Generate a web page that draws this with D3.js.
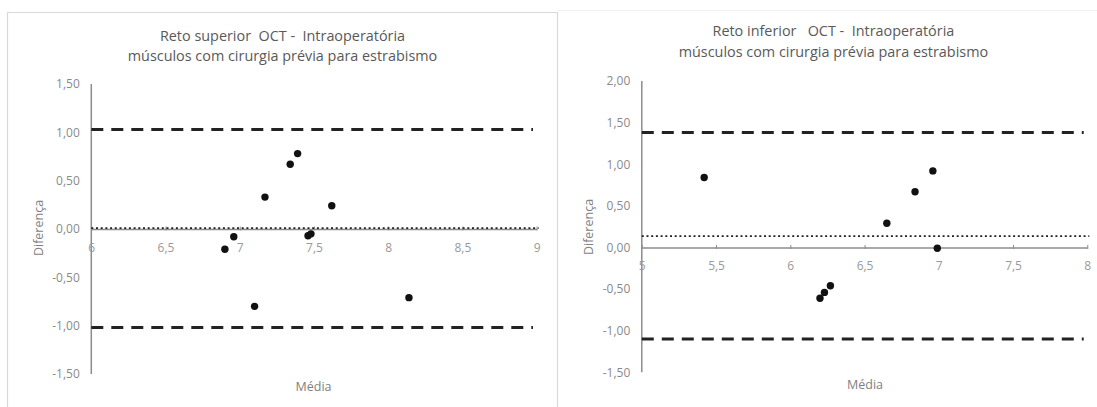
<!DOCTYPE html>
<html>
<head>
<meta charset="utf-8">
<script src="https://cdn.jsdelivr.net/npm/d3@7"></script>
<style>
  html, body { margin: 0; padding: 0; background: #fff; }
  svg { display: block; font-family: "Open Sans", Lato, sans-serif; }
  svg text { white-space: pre; }
</style>
</head>
<body>
<svg id="chart" width="1097" height="407"></svg>
<script>
// Bland-Altman: OCT vs intra-operative measurement, muscles with previous strabismus surgery

// Reto superior
const superiorMeans = [6.90, 6.96, 7.10, 7.17, 7.34, 7.39, 7.46, 7.48, 7.62, 8.14];
const superiorDiffs = [-0.21, -0.08, -0.80, 0.33, 0.67, 0.78, -0.07, -0.05, 0.24, -0.71];
const superiorBias = 0.01;
const superiorLimits = [1.03, -1.02];
const superiorXTicks = [6, 6.5, 7, 7.5, 8, 8.5, 9];
const superiorYTicks = [-1.5, -1, -0.5, 0, 0.5, 1, 1.5];

// Reto inferior
const inferiorMeans = [5.42, 6.20, 6.23, 6.27, 6.65, 6.84, 6.96, 6.99];
const inferiorDiffs = [0.84, -0.61, -0.54, -0.46, 0.29, 0.67, 0.92, -0.01];
const inferiorBias = 0.135;
const inferiorLimits = [1.38, -1.10];
const inferiorXTicks = [5, 5.5, 6, 6.5, 7, 7.5, 8];
const inferiorYTicks = [-1.5, -1, -0.5, 0, 0.5, 1, 1.5, 2];

const titlesSuperior = ["Reto superior  OCT -  Intraoperatória", "músculos com cirurgia prévia para estrabismo"];
const titlesInferior = ["Reto inferior   OCT -  Intraoperatória", "músculos com cirurgia prévia para estrabismo"];

const svg = d3.select("#chart");
const fmtX = v => String(v).replace(".", ",");
const fmtY = v => d3.format(".2f")(v).replace(".", ",").replace("−", "-");

// panel frames
svg.append("path")
  .attr("d", "M7.5,407 V12.5 H557.5 V407")
  .attr("fill", "none").attr("stroke", "#d9d9d9").attr("stroke-width", 1.2);
svg.append("path")
  .attr("d", "M558.5,10.5 H1097")
  .attr("fill", "none").attr("stroke", "#f0f0f0").attr("stroke-width", 1);

function panel(opt) {
  const g = svg.append("g");
  const x = d3.scaleLinear().domain(opt.xDomain).range(opt.xRange);
  const y = d3.scaleLinear().domain(opt.yDomain).range(opt.yRange);
  const x0 = opt.xRange[0], x1 = opt.xRange[1];

  // titles
  g.selectAll("text.title").data(opt.titles).join("text")
    .attr("class", "title")
    .attr("x", opt.titleX).attr("y", (d, i) => opt.titleY + i * 20.5)
    .attr("text-anchor", "middle")
    .attr("font-size", 14.4).attr("fill", "#595959")
    .text(d => d);

  // y axis line
  g.append("line")
    .attr("x1", x0).attr("x2", x0)
    .attr("y1", y(opt.yDomain[1])).attr("y2", y(opt.yDomain[0]))
    .attr("stroke", "#8c8c8c").attr("stroke-width", 1.5);

  // y tick labels
  g.selectAll("text.ytick").data(opt.yTicks).join("text")
    .attr("class", "ytick")
    .attr("x", x0 - 11.5).attr("y", d => y(d) + 4.3)
    .attr("text-anchor", "end").attr("font-size", 12).attr("fill", "#8a8a8a")
    .text(fmtY);

  // x axis along zero
  const xAxis = d3.axisBottom(x).tickValues(opt.xTicks).tickSize(0).tickFormat(fmtX);
  const ax = g.append("g").attr("transform", `translate(0,${y(0)})`).call(xAxis);
  ax.select(".domain").attr("stroke", "#8c8c8c").attr("stroke-width", 1.5);
  ax.selectAll(".tick text")
    .attr("dy", 0).attr("y", opt.xLabelOffset)
    .attr("font-family", "'Open Sans', Lato, sans-serif")
    .attr("font-size", 12).attr("fill", "#9a9a9a");
  ax.selectAll(".tick").append("line")
    .attr("y1", -2.5).attr("y2", 1.5)
    .attr("stroke", "#8c8c8c").attr("stroke-width", 1);

  // limits of agreement
  g.selectAll("line.loa").data(opt.limits).join("line")
    .attr("class", "loa")
    .attr("x1", x0).attr("x2", opt.dashEnd)
    .attr("y1", d => y(d)).attr("y2", d => y(d))
    .attr("stroke", "#222").attr("stroke-width", 3)
    .attr("stroke-dasharray", "12,8");

  // mean difference
  g.append("line")
    .attr("x1", x0).attr("x2", x1 + 2)
    .attr("y1", y(opt.bias)).attr("y2", y(opt.bias))
    .attr("stroke", "#222").attr("stroke-width", 1.8)
    .attr("stroke-dasharray", "2,2.7");

  // points
  g.selectAll("circle").data(opt.means.map((m, i) => [m, opt.diffs[i]])).join("circle")
    .attr("cx", d => x(d[0])).attr("cy", d => y(d[1]))
    .attr("r", 3.7).attr("fill", "#111");

  // axis titles
  g.append("text")
    .attr("transform", `translate(${opt.yTitleX},${opt.yTitleY}) rotate(-90)`)
    .attr("text-anchor", "middle").attr("font-size", 12.5).attr("fill", "#7f7f7f")
    .text("Diferença");
  g.append("text")
    .attr("x", opt.xTitleX).attr("y", opt.xTitleY)
    .attr("text-anchor", "middle").attr("font-size", 12.5).attr("fill", "#7f7f7f")
    .text("Média");
}

panel({
  titles: titlesSuperior, titleX: 282.5, titleY: 40.5,
  xDomain: [6, 9], xRange: [91.3, 536.6],
  yDomain: [-1.5, 1.5], yRange: [374, 84],
  xTicks: superiorXTicks, yTicks: superiorYTicks,
  means: superiorMeans, diffs: superiorDiffs,
  bias: superiorBias, limits: superiorLimits, dashEnd: 533,
  xLabelOffset: 22.5,
  yTitleX: 42.5, yTitleY: 228, xTitleX: 313.5, xTitleY: 391
});

panel({
  titles: titlesInferior, titleX: 833.4, titleY: 36,
  xDomain: [5, 8], xRange: [641.8, 1087.3],
  yDomain: [-1.5, 2], yRange: [372.3, 81],
  xTicks: inferiorXTicks, yTicks: inferiorYTicks,
  means: inferiorMeans, diffs: inferiorDiffs,
  bias: inferiorBias, limits: inferiorLimits, dashEnd: 1083.7,
  xLabelOffset: 22.5,
  yTitleX: 592.5, yTitleY: 227, xTitleX: 865, xTitleY: 389
});
</script>
</body>
</html>
